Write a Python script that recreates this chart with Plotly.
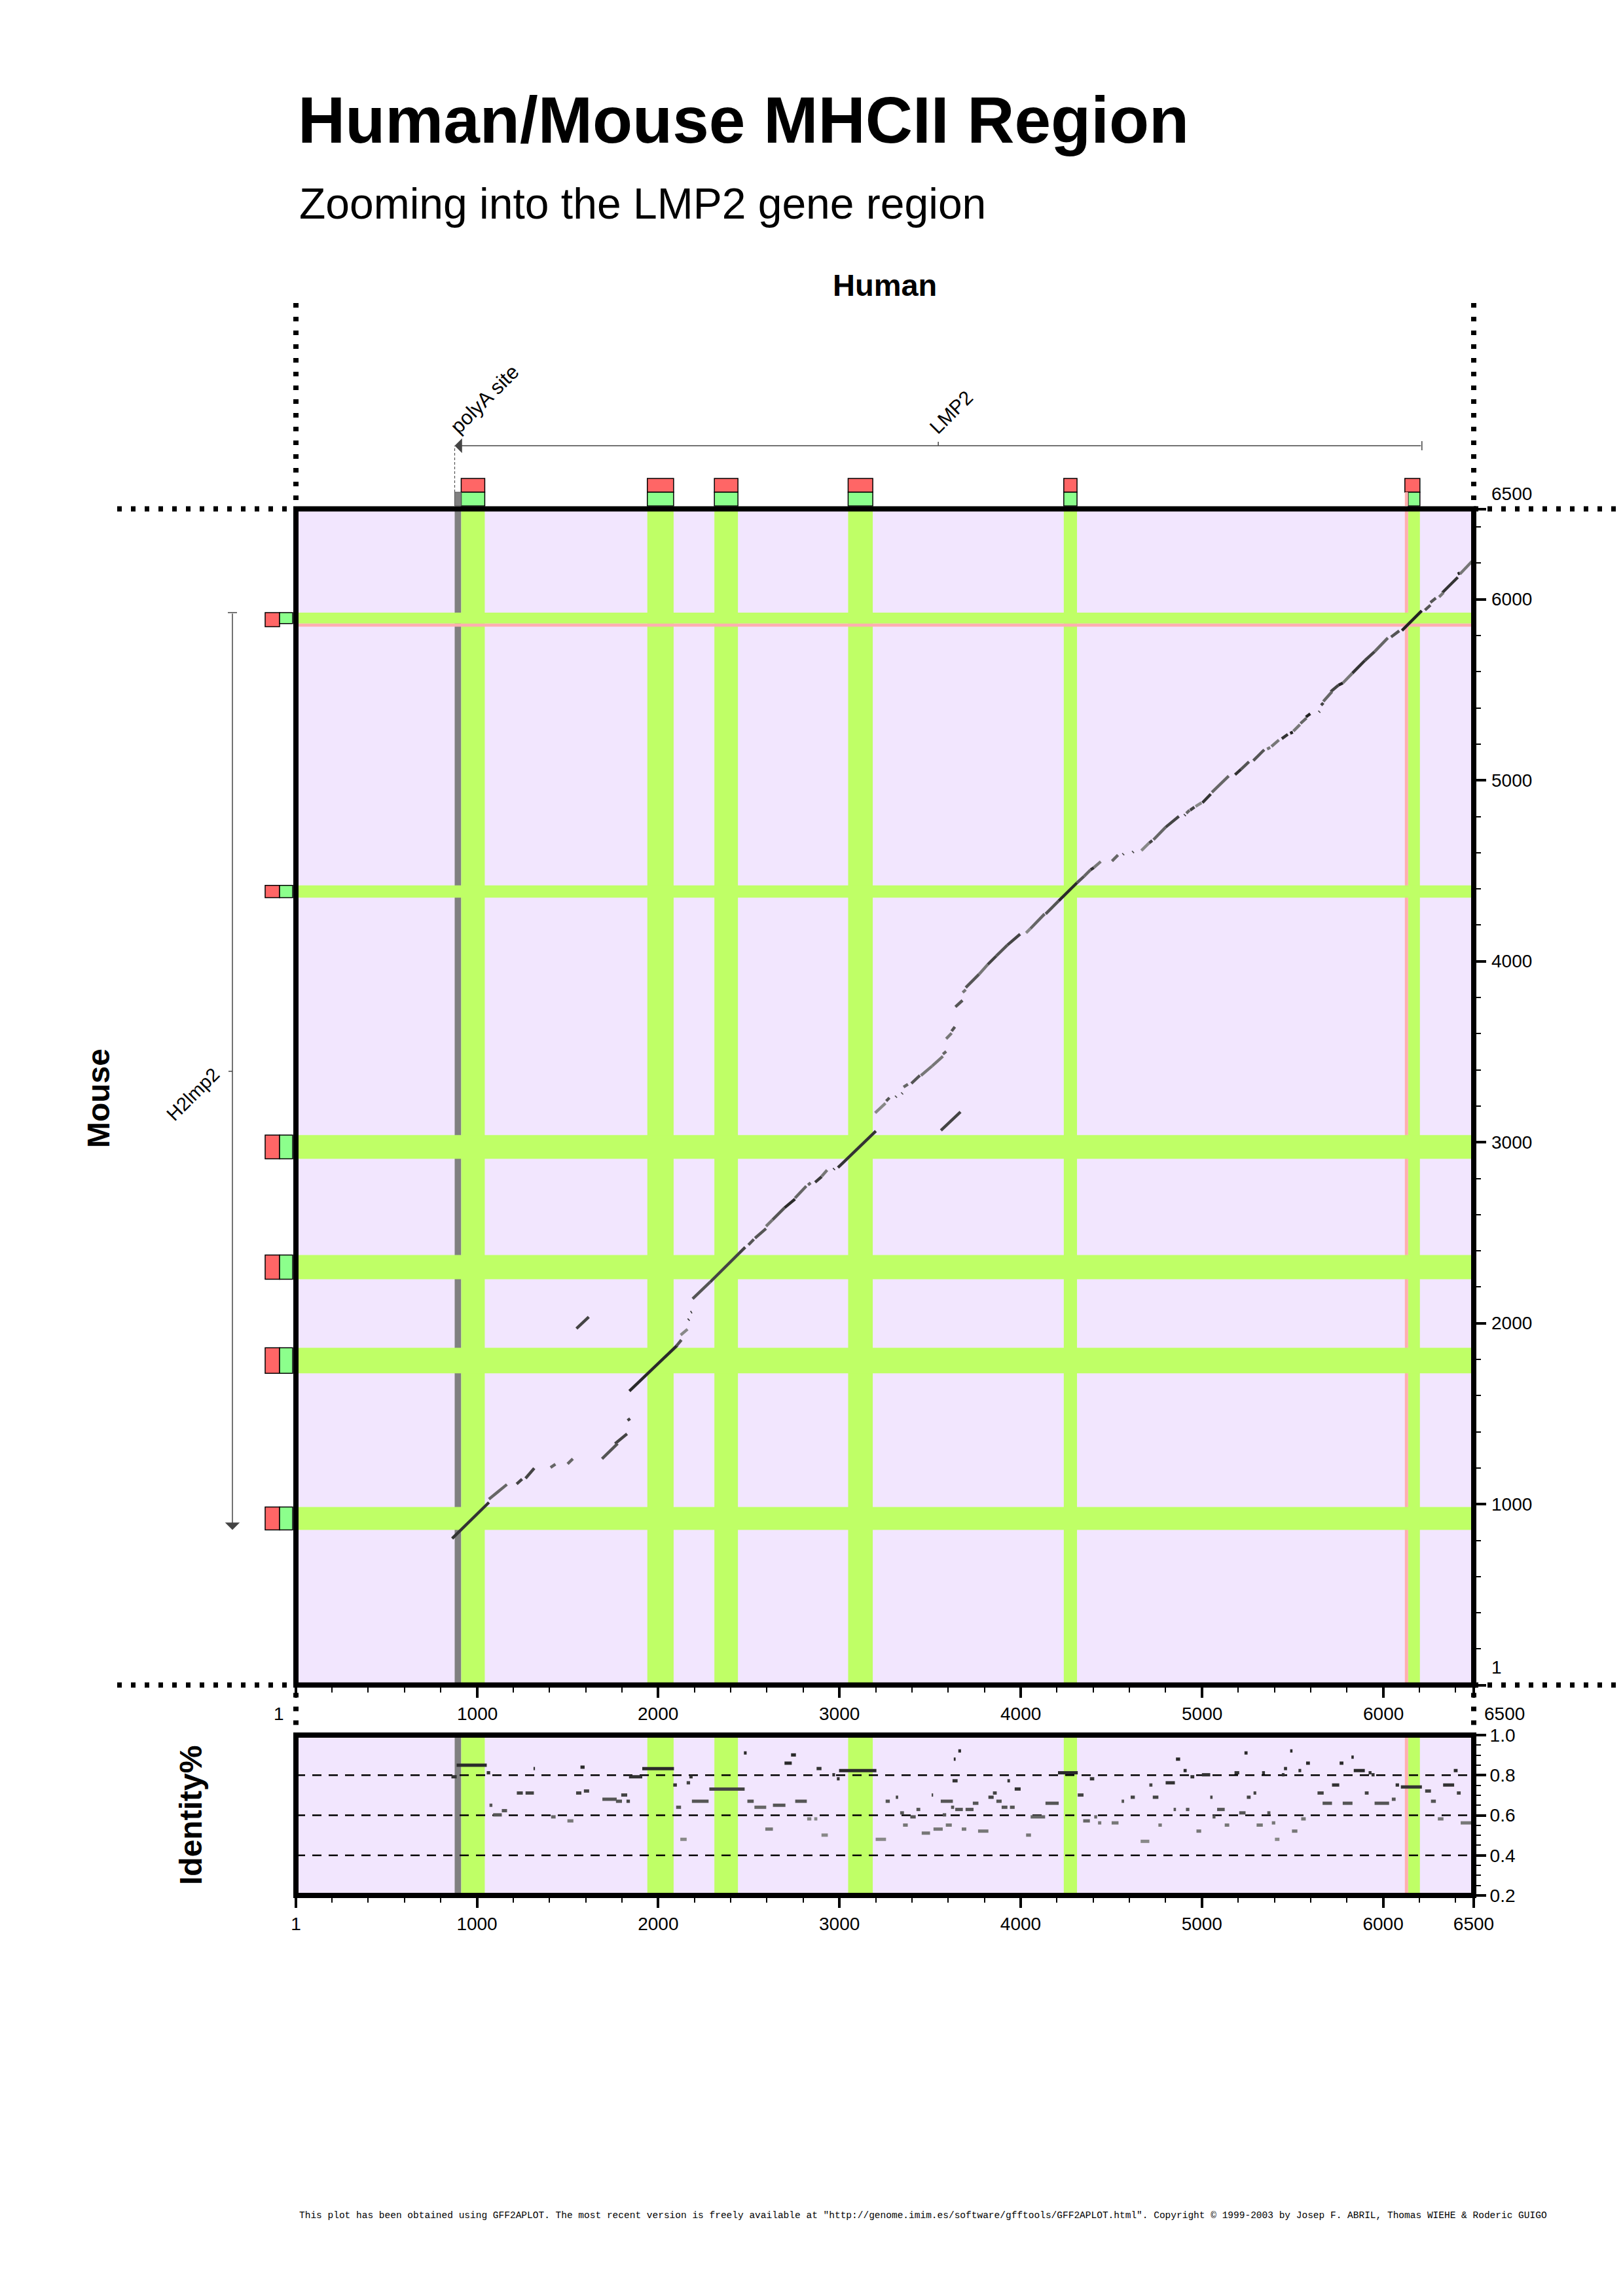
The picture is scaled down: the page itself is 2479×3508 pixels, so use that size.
import plotly.graph_objects as go

W, H = 2479, 3508

# ---------------- data ----------------
human_exon_start = [913, 1940, 2310, 3048, 4238, 6138]
human_exon_end = [1043, 2085, 2440, 3184, 4311, 6203]
human_cds_start = [913, 1940, 2310, 3048, 4238, 6120]
human_cds_end = [1043, 2085, 2440, 3184, 4311, 6203]
human_utr = [6120, 6138]
human_polya = [877, 913]

mouse_exon_start = [858, 1723, 2243, 2909, 4352, 5866]
mouse_exon_end = [985, 1864, 2377, 3040, 4420, 5927]
mouse_cds_start = [858, 1723, 2243, 2909, 4352, 5849]
mouse_cds_end = [985, 1864, 2377, 3040, 4420, 5927]
mouse_utr = [5849, 5866]

lmp2_span = [877, 6214]
h2lmp2_span = [858, 5927]

axis_ticks = [1, 1000, 2000, 3000, 4000, 5000, 6000, 6500]
axis_ticktext = ["1", "1000", "2000", "3000", "4000", "5000", "6000", "6500"]
identity_ticks = [0.2, 0.4, 0.6, 0.8, 1.0]
identity_ticktext = ["0.2", "0.4", "0.6", "0.8", "1.0"]
identity_grid = [0.4, 0.6, 0.8]

# alignment segments (human start/end, mouse start/end, grey level)
hsp_h1 = [863, 1066, 1219, 1268, 1406, 1500, 1690, 1762, 1831, 1841, 2100, 2124, 2166, 2180, 2190, 2287,
          1549,
          2498, 2534, 2595, 2631, 2697, 2755, 2827, 2866, 2902, 2968, 2992, 3197, 3258, 3310, 3344, 3354,
          3397, 3450, 3511, 3571, 3589, 3619,
          3560,
          3640, 3680, 3697, 3770, 3818, 3866, 3927, 4030, 4054, 4138, 4210, 4311, 4350, 4386, 4404, 4504,
          4564, 4618, 4666, 4709, 4733, 4800, 4904, 4914, 4935, 4965, 5003, 5055, 5183, 5216, 5284,
          5360, 5384, 5441, 5487, 5505, 5544, 5574, 5646, 5658, 5670, 5711, 5754, 5778, 5830, 5899, 5953,
          6044, 6104, 6231, 6261, 6309, 6327, 6412, 6424]
hsp_h2 = [1066, 1165, 1249, 1316, 1433, 1529, 1776, 1828, 1845, 2105, 2128, 2162, 2170, 2185, 2287, 2480,
          1617,
          2528, 2595, 2631, 2697, 2755, 2817, 2841, 2902, 2932, 2972, 3201, 3254, 3276, 3314, 3348, 3378,
          3444, 3511, 3571, 3589, 3619, 3637,
          3668,
          3679, 3697, 3770, 3818, 3866, 3927, 3997, 4054, 4132, 4210, 4311, 4350, 4386, 4404, 4442, 4537,
          4568, 4622, 4709, 4726, 4800, 4873, 4908, 4932, 4959, 4998, 5049, 5148, 5216, 5260, 5344,
          5377, 5425, 5474, 5502, 5541, 5577, 5598, 5650, 5670, 5718, 5754, 5778, 5830, 5899, 5953, 6026,
          6089, 6213, 6261, 6291, 6333, 6412, 6424, 6490]
hsp_m1 = [811, 1028, 1112, 1143, 1203, 1223, 1251, 1335, 1463, 1625, 1874, 1935, 2018, 2060, 2135, 2228,
          1971,
          2433, 2470, 2536, 2572, 2638, 2692, 2764, 2779, 2812, 2850, 2860, 3162, 3228, 3250, 3268, 3305,
          3325, 3369, 3421, 3487, 3572, 3614,
          3066,
          3748, 3828, 3855, 3928, 3982, 4030, 4090, 4157, 4181, 4262, 4334, 4434, 4470, 4506, 4518, 4554,
          4590, 4602, 4612, 4654, 4672, 4741, 4806, 4818, 4835, 4856, 4876, 4934, 5031, 5061, 5109,
          5173, 5187, 5230, 5260, 5272, 5314, 5350, 5377, 5415, 5436, 5490, 5526, 5538, 5592, 5662, 5711,
          5792, 5828, 5941, 5983, 6013, 6037, 6140, 6140]
hsp_m2 = [1010, 1109, 1139, 1199, 1221, 1251, 1335, 1389, 1473, 1878, 1908, 1967, 2022, 2063, 2228, 2420,
          2035,
          2464, 2523, 2572, 2638, 2686, 2758, 2776, 2810, 2846, 2854, 3062, 3216, 3246, 3254, 3272, 3321,
          3369, 3421, 3475, 3502, 3603, 3638,
          3168,
          3784, 3843, 3928, 3982, 4030, 4090, 4150, 4181, 4262, 4334, 4434, 4470, 4506, 4518, 4551, 4587,
          4594, 4606, 4654, 4667, 4741, 4801, 4810, 4835, 4852, 4876, 4924, 5024, 5061, 5103, 5169,
          5182, 5223, 5254, 5266, 5308, 5344, 5368, 5381, 5428, 5490, 5526, 5538, 5592, 5662, 5711, 5787,
          5826, 5937, 5968, 6007, 6037, 6122, 6146, 6210]
hsp_grey = [0x33, 0x66, 0x44, 0x44, 0x66, 0x66, 0x55, 0x44, 0x44, 0x2a, 0x55, 0x88, 0x33, 0x33, 0x55, 0x44,
            0x44,
            0x55, 0x55, 0x77, 0x55, 0x2a, 0x66, 0x66, 0x3a, 0x77, 0x33, 0x33, 0x88, 0x55, 0x44, 0x44, 0x66,
            0x55, 0x77, 0x77, 0x66, 0x77, 0x55,
            0x44,
            0x55, 0x77, 0x55, 0x77, 0x44, 0x55, 0x44, 0x88, 0x66, 0x55, 0x2a, 0x55, 0x66, 0x33, 0x77, 0x66,
            0x44, 0x44, 0x88, 0x44, 0x66, 0x44, 0x33, 0x66, 0x44, 0x88, 0x33, 0x66, 0x33, 0x55, 0x55,
            0x77, 0x77, 0x33, 0x22, 0x77, 0x66, 0x22, 0x44, 0x44, 0x66, 0x44, 0x22, 0x77, 0x33, 0x44, 0x66,
            0x55, 0x22, 0x55, 0x55, 0x77, 0x33, 0x22, 0x77]

# identity segments (human start/end, identity, grey level)
id_h1 = [859, 888, 1054, 1069, 1089, 1137, 1220, 1268, 1312, 1409, 1499, 1547, 1571, 1590, 1692, 1767,
         1796, 1825, 1839, 1912, 2083, 2099, 2122, 2157, 2172, 2186, 2282, 2473, 2492, 2531, 2591, 2633,
         2697, 2733, 2756, 2822, 2861, 2874, 2901, 2961, 2986, 2998, 3200,
         3255, 3311, 3335, 3351, 3391, 3425, 3454, 3509, 3519, 3559, 3570, 3587, 3616, 3631, 3624, 3639,
         3656, 3675, 3696, 3736, 3765, 3822, 3847, 3866, 3895, 3927, 3941, 3967, 4030, 4055, 4137, 4206,
         4315, 4345, 4382, 4406, 4427, 4502, 4557, 4607, 4662, 4710, 4729, 4760, 4800, 4844, 4857, 4899,
         4912, 4937, 4970, 5000, 5046, 5059, 5084, 5126, 5180, 5206, 5235, 5248, 5285, 5302, 5332, 5361,
         5386, 5403, 5441, 5453, 5487, 5497, 5533, 5548, 5575, 5638, 5666, 5718, 5760, 5777, 5825, 5838,
         5899, 5920, 5936, 5953, 6048, 6069, 6098, 6232, 6264, 6302, 6331, 6390, 6407, 6428]
id_h2 = [888, 1054, 1073, 1085, 1137, 1166, 1253, 1314, 1320, 1434, 1532, 1576, 1594, 1619, 1771, 1800,
         1829, 1844, 1912, 2087, 2103, 2126, 2157, 2176, 2190, 2278, 2477, 2488, 2527, 2596, 2633, 2702,
         2737, 2760, 2820, 2845, 2878, 2901, 2936, 2976, 3001, 3204, 3257,
         3278, 3324, 3356, 3377, 3421, 3446, 3500, 3517, 3570, 3626, 3589, 3620, 3633, 3641, 3652, 3681,
         3671, 3700, 3740, 3767, 3822, 3851, 3868, 3895, 3927, 3941, 3967, 4000, 4057, 4135, 4210, 4315,
         4347, 4382, 4406, 4422, 4445, 4540, 4571, 4630, 4710, 4727, 4760, 4779, 4851, 4857, 4880, 4916,
         4931, 4958, 4996, 5046, 5059, 5075, 5126, 5151, 5206, 5241, 5252, 5269, 5300, 5336, 5348, 5378,
         5405, 5428, 5456, 5470, 5500, 5527, 5548, 5573, 5596, 5672, 5718, 5758, 5781, 5831, 5838, 5899,
         5920, 5936, 5953, 6033, 6069, 6088, 6214, 6264, 6291, 6333, 6392, 6411, 6428, 6487]
id_val = [0.792, 0.850, 0.812, 0.650, 0.602, 0.623, 0.711, 0.711, 0.833, 0.592, 0.572, 0.711, 0.840, 0.721,
          0.680, 0.670, 0.701, 0.670, 0.792, 0.833, 0.751, 0.640, 0.480, 0.762, 0.792, 0.670, 0.731, 0.911,
          0.670, 0.640, 0.531, 0.650, 0.860, 0.901, 0.670, 0.582, 0.582, 0.833, 0.501, 0.802, 0.782, 0.823,
          0.480,
          0.670, 0.690, 0.612, 0.551, 0.592, 0.629, 0.511, 0.701, 0.531, 0.670, 0.602, 0.551, 0.640, 0.880,
          0.772, 0.629, 0.921, 0.531, 0.629, 0.660, 0.521, 0.690, 0.711, 0.670, 0.640, 0.772, 0.640, 0.731,
          0.501, 0.592, 0.660, 0.812, 0.701, 0.572, 0.782, 0.592, 0.562, 0.562, 0.670, 0.690, 0.470, 0.751,
          0.690, 0.551, 0.762, 0.629, 0.880, 0.823, 0.629, 0.792, 0.521, 0.802, 0.690, 0.592, 0.629, 0.551,
          0.812, 0.612, 0.911, 0.690, 0.711, 0.551, 0.812, 0.612, 0.562, 0.480, 0.802, 0.833, 0.921, 0.521,
          0.823, 0.582, 0.860, 0.711, 0.660, 0.751, 0.860, 0.660, 0.890, 0.823, 0.711, 0.812, 0.802, 0.660,
          0.680, 0.751, 0.741, 0.721, 0.670, 0.582, 0.751, 0.823, 0.711, 0.562]
id_grey = [0x33, 0x2a, 0x33, 0x55, 0x55, 0x55, 0x44, 0x44, 0x33, 0x66, 0x77, 0x44, 0x2a, 0x44, 0x55, 0x55,
           0x44, 0x44, 0x33, 0x2a, 0x33, 0x55, 0x88, 0x44, 0x33, 0x55, 0x44, 0x2a, 0x55, 0x66, 0x77, 0x55,
           0x2a, 0x2a, 0x55, 0x88, 0x88, 0x33, 0x88, 0x33, 0x33, 0x2a, 0x88,
           0x55, 0x44, 0x55, 0x77, 0x55, 0x55, 0x77, 0x44, 0x77, 0x55, 0x55, 0x77, 0x55, 0x2a, 0x33, 0x55,
           0x2a, 0x77, 0x55, 0x55, 0x77, 0x44, 0x44, 0x55, 0x55, 0x33, 0x55, 0x33, 0x77, 0x66, 0x55, 0x2a,
           0x44, 0x66, 0x33, 0x66, 0x77, 0x77, 0x55, 0x44, 0x88, 0x44, 0x44, 0x77, 0x33, 0x55, 0x2a, 0x2a,
           0x55, 0x33, 0x77, 0x33, 0x44, 0x55, 0x55, 0x77, 0x33, 0x55, 0x2a, 0x44, 0x44, 0x77, 0x33, 0x55,
           0x77, 0x88, 0x33, 0x33, 0x2a, 0x77, 0x33, 0x77, 0x2a, 0x44, 0x55, 0x33, 0x2a, 0x55, 0x2a, 0x2a,
           0x44, 0x33, 0x33, 0x55, 0x55, 0x33, 0x33, 0x44, 0x55, 0x77, 0x33, 0x2a, 0x44, 0x77]

# ---------------- layout helpers (page pixels -> paper) ----------------
def fx(p):
    return p / W


def fy(p):
    return 1 - p / H


PX0, PX1 = 452, 2251          # plot left/right
MT, MB = 777.5, 2574.5        # main plot top/bottom
IT, IB = 2651, 2896           # identity plot top/bottom

FONT = "Liberation Sans, Arial, Helvetica, sans-serif"
BG = "#F2E6FE"
GREEN_BAND = "#BFFF66"
GREY_BAND = "#808080"
PINK = "#FFAFAF"
RED_BOX = "#FF6666"
GREEN_BOX = "#8CFF8C"


def grey(v):
    return "rgb(%d,%d,%d)" % (v, v, v)


fig = go.Figure()

# dotplot segments grouped by shade
for g in sorted(set(hsp_grey)):
    xs, ys = [], []
    for a, b, c, d, s in zip(hsp_h1, hsp_h2, hsp_m1, hsp_m2, hsp_grey):
        if s == g:
            xs += [a, b, None]
            ys += [c, d, None]
    fig.add_trace(go.Scatter(x=xs, y=ys, mode="lines", xaxis="x", yaxis="y",
                             line=dict(color=grey(g), width=4.5), hoverinfo="skip", showlegend=False))

# identity segments grouped by shade
for g in sorted(set(id_grey)):
    xs, ys = [], []
    for a, b, v, s in zip(id_h1, id_h2, id_val, id_grey):
        if s == g:
            xs += [a, b, None]
            ys += [v, v, None]
    fig.add_trace(go.Scatter(x=xs, y=ys, mode="lines", xaxis="x2", yaxis="y2",
                             line=dict(color=grey(g), width=5), hoverinfo="skip", showlegend=False))

shapes = []


def vband(x0, x1, color, yref):
    shapes.append(dict(type="rect", xref=yref[0], x0=x0, x1=x1, yref=yref[1], y0=0, y1=1,
                       fillcolor=color, line=dict(width=0), layer="below"))


# vertical bands (human features) in both panels
for ax in (("x", "y domain"), ("x2", "y2 domain")):
    vband(human_polya[0], human_polya[1], GREY_BAND, ax)
    for s, e in zip(human_exon_start, human_exon_end):
        vband(s, e, GREEN_BAND, ax)
    vband(human_utr[0], human_utr[1], PINK, ax)

# horizontal bands (mouse features)
for s, e in zip(mouse_exon_start, mouse_exon_end):
    shapes.append(dict(type="rect", xref="x domain", x0=0, x1=1, yref="y", y0=s, y1=e,
                       fillcolor=GREEN_BAND, line=dict(width=0), layer="below"))
shapes.append(dict(type="rect", xref="x domain", x0=0, x1=1, yref="y", y0=mouse_utr[0], y1=mouse_utr[1],
                   fillcolor=PINK, line=dict(width=0), layer="below"))

# identity dashed reference lines
for v in identity_grid:
    shapes.append(dict(type="line", xref="x2 domain", x0=0, x1=1, yref="y2", y0=v, y1=v,
                       line=dict(color="black", width=2.5, dash="14px,11px"), layer="below"))

# top track boxes (human)
for s, e in zip(human_cds_start, human_cds_end):
    shapes.append(dict(type="rect", xref="x", x0=s, x1=e, yref="paper", y0=fy(752), y1=fy(731),
                       fillcolor=RED_BOX, line=dict(color="black", width=1.5)))
for s, e in zip(human_exon_start, human_exon_end):
    shapes.append(dict(type="rect", xref="x", x0=s, x1=e, yref="paper", y0=fy(773), y1=fy(752),
                       fillcolor=GREEN_BOX, line=dict(color="black", width=1.5)))
shapes.append(dict(type="rect", xref="x", x0=human_utr[0], x1=human_utr[1], yref="paper", y0=fy(773),
                   y1=fy(752), fillcolor=PINK, line=dict(width=0)))
shapes.append(dict(type="rect", xref="x", x0=human_polya[0], x1=human_polya[1], yref="paper", y0=fy(773),
                   y1=fy(752), fillcolor=GREY_BAND, line=dict(color="#555", width=1)))

# left track boxes (mouse)
for s, e in zip(mouse_cds_start, mouse_cds_end):
    shapes.append(dict(type="rect", xref="paper", x0=fx(405), x1=fx(427), yref="y", y0=s, y1=e,
                       fillcolor=RED_BOX, line=dict(color="black", width=1.5)))
for s, e in zip(mouse_exon_start, mouse_exon_end):
    shapes.append(dict(type="rect", xref="paper", x0=fx(427), x1=fx(447), yref="y", y0=s, y1=e,
                       fillcolor=GREEN_BOX, line=dict(color="black", width=1.5)))

# gene arrows: caps and midpoint ticks
lmp2_mid = (lmp2_span[0] + lmp2_span[1]) / 2
h2_mid = (h2lmp2_span[0] + h2lmp2_span[1]) / 2
LINE = dict(color="#444", width=1.5)
shapes.append(dict(type="line", xref="x", x0=lmp2_span[1], x1=lmp2_span[1], yref="paper",
                   y0=fy(688), y1=fy(674), line=LINE))
shapes.append(dict(type="line", xref="x", x0=lmp2_mid, x1=lmp2_mid, yref="paper",
                   y0=fy(681), y1=fy(675), line=LINE))
shapes.append(dict(type="line", xref="paper", x0=fx(348), x1=fx(362), yref="y",
                   y0=h2lmp2_span[1], y1=h2lmp2_span[1], line=LINE))
shapes.append(dict(type="line", xref="paper", x0=fx(349), x1=fx(355), yref="y",
                   y0=h2_mid, y1=h2_mid, line=LINE))
# polyA dashed marker
shapes.append(dict(type="line", xref="x", x0=human_polya[0], x1=human_polya[0], yref="paper",
                   y0=fy(752), y1=fy(681), line=dict(color="#555", width=1.2, dash="4px,3px")))

# plot frames
for xr, yr in (("x domain", "y domain"), ("x2 domain", "y2 domain")):
    shapes.append(dict(type="rect", xref=xr, x0=0, x1=1, yref=yr, y0=0, y1=1,
                       line=dict(color="black", width=8), layer="above"))

# dotted frame extensions
DOT = dict(color="black", width=8, dash="7px,14px")
for xp in (PX0, PX1):
    shapes.append(dict(type="line", xref="paper", x0=fx(xp), x1=fx(xp), yref="paper",
                       y0=fy(463), y1=fy(MT), line=DOT))
    shapes.append(dict(type="line", xref="paper", x0=fx(xp), x1=fx(xp), yref="paper",
                       y0=fy(MB + 12), y1=fy(IT), line=DOT))
for yp in (MT, MB):
    shapes.append(dict(type="line", xref="paper", x0=fx(179), x1=fx(PX0), yref="paper",
                       y0=fy(yp), y1=fy(yp), line=DOT))
    shapes.append(dict(type="line", xref="paper", x0=fx(PX1), x1=fx(W), yref="paper",
                       y0=fy(yp), y1=fy(yp), line=DOT))

ann = []
ann.append(dict(text="<b>Human/Mouse MHCII Region</b>", x=fx(453), y=fy(183), xref="paper", yref="paper",
                xanchor="left", yanchor="middle", showarrow=False, font=dict(size=100, family=FONT, color="black")))
ann.append(dict(text="Zooming into the LMP2 gene region", x=fx(455), y=fy(311), xref="paper", yref="paper",
                xanchor="left", yanchor="middle", showarrow=False, font=dict(size=66, family=FONT, color="black")))
ann.append(dict(text="<b>Human</b>", x=fx(1351), y=fy(436), xref="paper", yref="paper",
                xanchor="center", yanchor="middle", showarrow=False, font=dict(size=47, family=FONT, color="black")))
ann.append(dict(text="<b>Mouse</b>", x=fx(150), y=fy(1678), xref="paper", yref="paper", textangle=-90,
                xanchor="center", yanchor="middle", showarrow=False, font=dict(size=48, family=FONT, color="black")))
ann.append(dict(text="<b>Identity%</b>", x=fx(291), y=fy(2774), xref="paper", yref="paper", textangle=-90,
                xanchor="center", yanchor="middle", showarrow=False, font=dict(size=48, family=FONT, color="black")))

# gene labels
ann.append(dict(text="LMP2", x=lmp2_mid, y=fy(672), xref="x", yref="paper", textangle=-45, xshift=-22,
                xanchor="left", yanchor="bottom", showarrow=False, font=dict(size=30, family=FONT, color="black")))
ann.append(dict(text="polyA site", x=human_polya[0], y=fy(672), xref="x", yref="paper", textangle=-45,
                xshift=-16, xanchor="left", yanchor="bottom", showarrow=False,
                font=dict(size=31, family=FONT, color="black")))
ann.append(dict(text="H2lmp2", x=fx(344), y=h2_mid, xref="paper", yref="y", textangle=-45, yshift=14,
                xanchor="right", yanchor="top", showarrow=False, font=dict(size=29, family=FONT, color="black")))

# arrows
ann.append(dict(text="", x=lmp2_span[0], y=fy(681), xref="x", yref="paper", ax=lmp2_span[1], axref="x",
                ay=0, ayref="pixel", showarrow=True, arrowhead=1, arrowsize=2.5, arrowwidth=1.5,
                arrowcolor="#444"))
ann.append(dict(text="", x=fx(355), y=h2lmp2_span[0], xref="paper", yref="y", ax=0, axref="pixel",
                ay=h2lmp2_span[1], ayref="y", showarrow=True, arrowhead=1, arrowsize=2.5, arrowwidth=1.5,
                arrowcolor="#444"))

# main axis tick labels
TF = dict(size=28, family=FONT, color="black")
for v, t in zip(axis_ticks, axis_ticktext):
    if v == axis_ticks[0]:
        ann.append(dict(text=t, x=v, y=fy(2618), xref="x", yref="paper", xanchor="right", yanchor="middle",
                        xshift=-16, showarrow=False, font=TF))
        ann.append(dict(text=t, x=fx(2276), y=v, xref="paper", yref="y", xanchor="left", yanchor="bottom",
                        yshift=10, showarrow=False, font=TF))
    elif v == axis_ticks[-1]:
        ann.append(dict(text=t, x=v, y=fy(2618), xref="x", yref="paper", xanchor="left", yanchor="middle",
                        xshift=14, showarrow=False, font=TF))
        ann.append(dict(text=t, x=fx(2276), y=v, xref="paper", yref="y", xanchor="left", yanchor="bottom",
                        yshift=6, showarrow=False, font=TF))
    else:
        ann.append(dict(text=t, x=v, y=fy(2618), xref="x", yref="paper", xanchor="center", yanchor="middle",
                        showarrow=False, font=TF))
        ann.append(dict(text=t, x=fx(2276), y=v, xref="paper", yref="y", xanchor="left", yanchor="middle",
                        showarrow=False, font=TF))

ann.append(dict(text=("This plot has been obtained using GFF2APLOT. The most recent version is freely available at "
                      "\"http://genome.imim.es/software/gfftools/GFF2APLOT.html\". Copyright \u00a9 1999-2003 by "
                      "Josep F. ABRIL, Thomas WIEHE &amp; Roderic GUIGO"),
                x=fx(455), y=fy(3385), xref="paper", yref="paper", xanchor="left", yanchor="middle",
                showarrow=False, font=dict(size=14.5, family="Liberation Mono, Courier New, monospace",
                                           color="black")))

minor_vals = [v for v in range(200, 6500, 200) if v % 1000 != 0]
minor_id = [0.25, 0.3, 0.35, 0.45, 0.5, 0.55, 0.65, 0.7, 0.75, 0.85, 0.9, 0.95]

MINOR = dict(tickmode="array", tickvals=minor_vals, ticklen=10, tickwidth=2, ticks="outside", tickcolor="black")
common_x = dict(range=[1, 6500], showgrid=False, zeroline=False, showline=False, ticks="outside",
                tickmode="array", tickvals=axis_ticks, ticklen=18, tickwidth=4, tickcolor="black",
                automargin=False, minor=MINOR)

fig.update_layout(
    autosize=False,
    width=W, height=H, margin=dict(l=0, r=0, t=0, b=0, pad=0, autoexpand=False),
    paper_bgcolor="white", plot_bgcolor=BG, showlegend=False,
    xaxis=dict(domain=[fx(PX0), fx(PX1)], anchor="y", showticklabels=False, **common_x),
    yaxis=dict(domain=[fy(MB), fy(MT)], anchor="x", side="right", range=[1, 6500], showgrid=False,
               zeroline=False, showline=False, ticks="outside", tickmode="array", tickvals=axis_ticks,
               ticklen=18, tickwidth=4, tickcolor="black", showticklabels=False, automargin=False,
               minor=MINOR),
    xaxis2=dict(domain=[fx(PX0), fx(PX1)], anchor="y2", showticklabels=True, ticktext=axis_ticktext,
                tickfont=TF, **common_x),
    yaxis2=dict(domain=[fy(IB), fy(IT)], anchor="x2", side="right", range=[0.2, 1.0], showgrid=False,
                zeroline=False, showline=False, ticks="outside", tickmode="array", tickvals=identity_ticks,
                ticktext=identity_ticktext, ticklen=18, tickwidth=4, tickcolor="black", tickfont=TF,
                automargin=False,
                minor=dict(tickmode="array", tickvals=minor_id, ticklen=10, tickwidth=2,
                           ticks="outside", tickcolor="black")),
    shapes=shapes, annotations=ann,
)

fig.write_html("out.html", config={"responsive": False})
